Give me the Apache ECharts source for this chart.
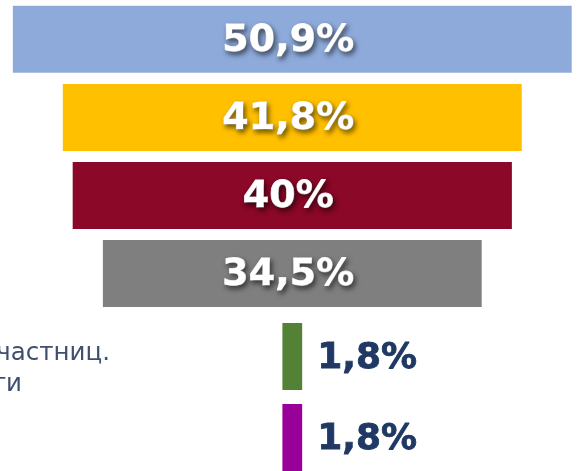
<!DOCTYPE html>
<html>
<head>
<meta charset="utf-8">
<style>
    html, body { margin: 0; padding: 0; background: #ffffff; }
    #chart { width: 577px; height: 471px; }
</style>
<script src="https://cdn.jsdelivr.net/npm/echarts@6/dist/echarts.min.js"></script>
</head>
<body>
<div id="chart"></div>
<script>
    // values, top row first
    var categories = ['A', 'B', 'C', 'D', 'E', 'F']
    var values = [50.9, 41.8, 40, 34.5, 1.8, 1.8]
    var labels = ['50,9%', '41,8%', '40%', '34,5%', '1,8%', '1,8%']
    var colors = ['#8eaadb', '#ffc000', '#8b0828', '#7f7f7f', '#538135', '#990099']
    var sideText = ['участниц.', 'ти']

    var CENTER = 26.62      // every bar is centred on this axis value
    var X_MAX = 52.55
    var FUNNEL_ROWS = 4

    var myChart = echarts.init(document.getElementById('chart'))

    var bigLabel = {
        show: true,
        position: 'inside',
        color: '#ffffff',
        fontFamily: 'DejaVu Sans',
        fontWeight: 'bold',
        fontSize: 38,
        textBorderColor: '#ffffff',
        textBorderWidth: 0.8,
        textShadowColor: 'rgba(0,0,0,0.55)',
        textShadowBlur: 5,
        textShadowOffsetX: 2,
        textShadowOffsetY: 3,
        offset: [-4, 2]
    }
    var smallLabel = {
        show: true,
        position: 'right',
        distance: 15,
        color: '#1f3864',
        fontFamily: 'DejaVu Sans',
        fontWeight: 'bold',
        fontSize: 36,
        textBorderColor: '#1f3864',
        textBorderWidth: 0.8,
        offset: [0, 2]
    }

    function rows(from, to, label) {
        var cats = categories.slice(from, to)
        var base = values.slice(from, to).map(function (v) { return CENTER - v / 2 })
        var bars = values.slice(from, to).map(function (v, j) {
            var i = from + j
            return {
                value: v,
                itemStyle: { color: colors[i] },
                label: Object.assign({ formatter: labels[i] }, label)
            }
        })
        return { cats: cats, base: base, bars: bars }
    }

    var funnelRows = rows(0, FUNNEL_ROWS, bigLabel)
    var smallRows = rows(FUNNEL_ROWS, values.length, smallLabel)

    var option = {
        animation: false,
        grid: [
            { left: 0, width: 577, top: 0.3, height: 312.3, outerBoundsMode: 'none' },
            { left: 0, width: 577, top: 316, height: 162, outerBoundsMode: 'none' }
        ],
        xAxis: [
            { gridIndex: 0, type: 'value', min: 0, max: X_MAX, show: false },
            { gridIndex: 1, type: 'value', min: 0, max: X_MAX, show: false }
        ],
        yAxis: [
            { gridIndex: 0, type: 'category', data: funnelRows.cats, inverse: true, show: false },
            { gridIndex: 1, type: 'category', data: smallRows.cats, inverse: true, show: false }
        ],
        graphic: [
            {
                type: 'text', x: 110, y: 353.5,
                style: { text: sideText[0], fill: '#3e4f6f', font: '24.5px "DejaVu Sans", sans-serif', align: 'right', verticalAlign: 'middle' }
            },
            {
                type: 'text', x: 22, y: 385,
                style: { text: sideText[1], fill: '#3e4f6f', font: '24.5px "DejaVu Sans", sans-serif', align: 'right', verticalAlign: 'middle' }
            }
        ],
        series: [
            {
                type: 'bar', xAxisIndex: 0, yAxisIndex: 0, stack: 'funnel',
                data: funnelRows.base, itemStyle: { color: 'transparent' }, silent: true, barWidth: 67
            },
            {
                type: 'bar', xAxisIndex: 0, yAxisIndex: 0, stack: 'funnel',
                data: funnelRows.bars, barWidth: 67
            },
            {
                type: 'bar', xAxisIndex: 1, yAxisIndex: 1, stack: 'small',
                data: smallRows.base, itemStyle: { color: 'transparent' }, silent: true, barWidth: 67
            },
            {
                type: 'bar', xAxisIndex: 1, yAxisIndex: 1, stack: 'small',
                data: smallRows.bars, barWidth: 67
            }
        ]
    }
    myChart.setOption(option)
</script>
</body>
</html>
